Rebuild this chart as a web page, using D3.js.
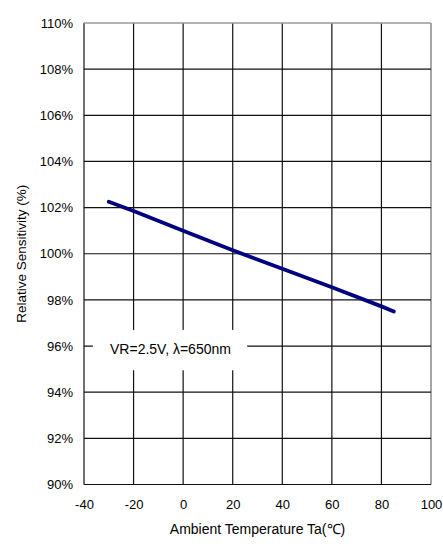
<!DOCTYPE html>
<html>
<head>
<meta charset="utf-8">
<script src="https://cdn.jsdelivr.net/npm/d3@7"></script>
<style>
  body { margin: 0; background: #fff; }
  svg text { font-family: "Liberation Sans", Arial, sans-serif; fill: #000; }
</style>
</head>
<body>
<div id="chart"></div>
<script>
// values
var temps = [-30, -20, 0, 20, 40, 60, 80, 85]
var sensitivity = [102.25, 101.85, 101.0, 100.15, 99.35, 98.55, 97.72, 97.5]

var xTicks = [-40, -20, 0, 20, 40, 60, 80, 100]
var yTicks = [90, 92, 94, 96, 98, 100, 102, 104, 106, 108, 110]

var labelText = 'VR=2.5V, \u03bb=650nm'
var xTitle = 'Ambient Temperature Ta(\u2103)'
var yTitle = 'Relative Sensitivity (%)'

var width = 443, height = 546
var margin = {top: 23, right: 12, bottom: 61.5, left: 84}
var w = width - margin.left - margin.right
var h = height - margin.top - margin.bottom

var x = d3.scaleLinear().domain([-40, 100]).range([0, w])
var y = d3.scaleLinear().domain([90, 110]).range([h, 0])

var svg = d3.select('#chart')
  .append('svg')
  .attr('width', width)
  .attr('height', height)

var g = svg.append('g')
  .attr('transform', `translate(${margin.left},${margin.top})`)

// grid
g.append('g')
  .selectAll('line')
  .data(xTicks)
  .enter()
  .append('line')
  .attr('x1', d => x(d)).attr('x2', d => x(d))
  .attr('y1', 0).attr('y2', h)
  .attr('stroke', (d, i) => i == xTicks.length - 1 ? '#888' : '#111')
  .attr('stroke-width', (d, i) => i == xTicks.length - 1 ? 1.5 : 1.2)

g.append('g')
  .selectAll('line')
  .data(yTicks)
  .enter()
  .append('line')
  .attr('x1', 0).attr('x2', w)
  .attr('y1', d => y(d)).attr('y2', d => y(d))
  .attr('stroke', (d, i) => i == yTicks.length - 1 ? '#999' : '#111')
  .attr('stroke-width', (d, i) => i == yTicks.length - 1 ? 1.5 : 1.2)

// axes (labels only, lines come from the grid)
var xAxis = g.append('g')
  .attr('transform', `translate(0,${h})`)
  .call(d3.axisBottom(x).tickValues(xTicks).tickSize(0).tickPadding(15).tickFormat(d => String(d)))
xAxis.select('.domain').remove()
xAxis.selectAll('text').style('font-size', '13px')

var yAxis = g.append('g')
  .call(d3.axisLeft(y).tickValues(yTicks).tickSize(0).tickPadding(11).tickFormat(d => d + '%'))
yAxis.select('.domain').remove()
yAxis.selectAll('text').style('font-size', '13px')

// annotation box
g.append('rect')
  .attr('x', x(-36.4))
  .attr('y', y(96.7))
  .attr('width', x(25.8) - x(-36.4))
  .attr('height', y(94.95) - y(96.7))
  .attr('fill', '#fff')

g.append('text')
  .attr('x', x(-29.5))
  .attr('y', y(95.64))
  .style('font-size', '14px')
  .text(labelText)

// curve
var line = d3.line()
  .x((d, i) => x(temps[i]))
  .y(d => y(d))

g.append('path')
  .datum(sensitivity)
  .attr('d', line)
  .attr('fill', 'none')
  .attr('stroke', '#000080')
  .attr('stroke-width', 3.8)
  .attr('stroke-linecap', 'round')

// titles
svg.append('text')
  .attr('x', margin.left + w / 2)
  .attr('y', 534)
  .attr('text-anchor', 'middle')
  .style('font-size', '14px')
  .text(xTitle)

svg.append('text')
  .attr('transform', `translate(26,${margin.top + h / 2}) rotate(-90)`)
  .attr('text-anchor', 'middle')
  .style('font-size', '13.5px')
  .text(yTitle)
</script>
</body>
</html>
